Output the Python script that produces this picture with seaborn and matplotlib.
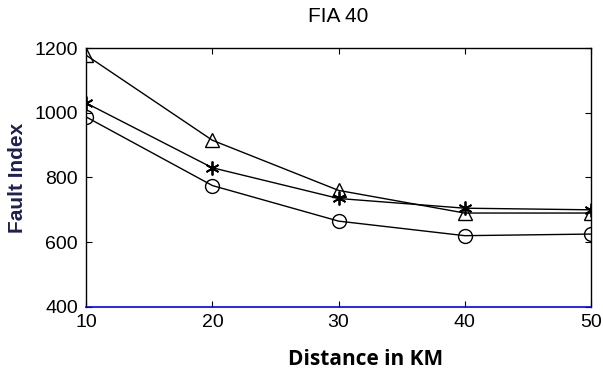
import numpy as np
import pandas as pd
import matplotlib
matplotlib.use("Agg")
import matplotlib.pyplot as plt
import seaborn as sns

distance = [10, 20, 30, 40, 50]
series_triangle = [1178, 915, 760, 690, 690]
series_star = [1030, 830, 735, 705, 700]
series_circle = [987, 775, 665, 620, 625]

sns.set_style("white")
plt.rcParams['font.family'] = ['Liberation Sans', 'DejaVu Sans']
plt.rcParams['text.color'] = 'black'

fig, ax = plt.subplots(figsize=(6.03, 3.76), dpi=100)
fig.subplots_adjust(left=0.143, right=0.980, top=0.872, bottom=0.184)

# asterisk marker for the middle series
asterisk = (6, 2, 0)
for vals, mk in [(series_triangle, '^'), (series_star, asterisk), (series_circle, 'o')]:
    df = pd.DataFrame({'d': distance, 'v': vals})
    sns.lineplot(data=df, x='d', y='v', ax=ax, color='black', lw=1,
                 marker=mk, markersize=10,
                 markerfacecolor='none',
                 markeredgecolor='black', markeredgewidth=1.3 if mk == asterisk else 1)

ax.set_xlim(10, 50)
ax.set_ylim(400, 1200)
ax.set_xticks(distance)
ax.set_yticks([400, 600, 800, 1000, 1200])
ax.tick_params(direction='in', length=4, labelsize=14, colors='black', top=True, right=True,
               bottom=True, left=True)
ax.tick_params(axis='x', pad=5)
ax.tick_params(axis='y', pad=6)
for s in ['left', 'right', 'top']:
    ax.spines[s].set_color('black')
    ax.spines[s].set_linewidth(1)
ax.spines['bottom'].set_color('blue')
ax.spines['bottom'].set_linewidth(1.2)

ax.set_title('FIA 40', fontsize=15, pad=19, color='black')
ax.set_xlabel('Distance in KM', fontsize=15, fontweight='bold',
              family=['Open Sans', 'DejaVu Sans'], color='black')
ax.xaxis.set_label_coords(0.554, -0.165)
ax.set_ylabel('Fault Index', fontsize=15, fontweight='bold', color='#202050', labelpad=5)

fig.savefig('out.png', dpi=100)
